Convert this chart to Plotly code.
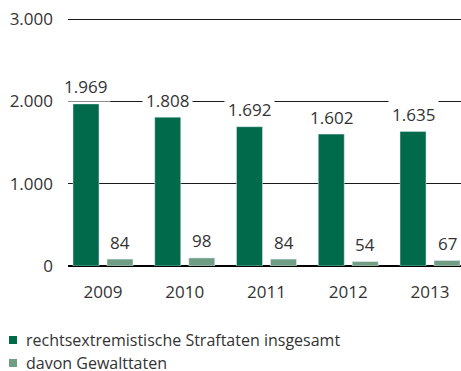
import plotly.graph_objects as go

# Rechtsextremistische Straftaten 2009-2013
years = ["2009", "2010", "2011", "2012", "2013"]
total = [1969, 1808, 1692, 1602, 1635]
violent = [84, 98, 84, 54, 67]
total_labels = ["1.969", "1.808", "1.692", "1.602", "1.635"]
violent_labels = ["84", "98", "84", "54", "67"]
y_ticks = [0, 1000, 2000, 3000]
y_tick_labels = ["0", "1.000", "2.000", "3.000"]
legend_names = ["rechtsextremistische Straftaten insgesamt", "davon Gewalttaten"]

DARK = "#006a4a"
LIGHT = "#6f9e85"
TEXT = "#333333"
FONT = "Open Sans"
NUM_SIZE = 17
LEGEND_SIZE = 16

W, H = 461, 371
L, R, T, B = 68, 0, 17, 105
plot_w = W - L - R
plot_h = H - T - B
# 3000 sits 247 px above the baseline; a little headroom keeps its gridline
y_top = plot_h / 247 * 3000

BAR_W = 0.318
DARK_OFF = -0.367
LIGHT_OFF = 0.049
x_range = [-0.428, 4.379]
px_per_cat = plot_w / (x_range[1] - x_range[0])

fig = go.Figure()
fig.add_trace(go.Bar(x=years, y=total, name=legend_names[0], marker_color=DARK,
                     width=BAR_W, offset=DARK_OFF, showlegend=False))
fig.add_trace(go.Bar(x=years, y=violent, name=legend_names[1], marker_color=LIGHT,
                     width=BAR_W, offset=LIGHT_OFF, showlegend=False))

annotations = []
for values, labels, off in ((total, total_labels, DARK_OFF),
                            (violent, violent_labels, LIGHT_OFF)):
    for i, (v, lab) in enumerate(zip(values, labels)):
        annotations.append(dict(x=i, y=v, xref="x", yref="y", text=lab,
                                showarrow=False, yanchor="middle",
                                xshift=(off + BAR_W / 2) * px_per_cat, yshift=17,
                                bgcolor="white", borderpad=3,
                                font=dict(family=FONT, size=NUM_SIZE, color=TEXT)))


def px_to_paper(px, py):
    return (px - L) / plot_w, (H - B - py) / plot_h


# legend drawn as squares and text below the plot
shapes = []
for i, (name, col) in enumerate(zip(legend_names, [DARK, LIGHT])):
    cy = 340 + i * 23
    x0, y0 = px_to_paper(9, cy + 4)
    x1, y1 = px_to_paper(17, cy - 4)
    shapes.append(dict(type="rect", xref="paper", yref="paper", x0=x0, y0=y0,
                       x1=x1, y1=y1, fillcolor=col, line_width=0))
    tx, ty = px_to_paper(24, cy)
    annotations.append(dict(x=tx, y=ty, xref="paper", yref="paper", text=name,
                            showarrow=False, xanchor="left", yanchor="middle",
                            font=dict(family=FONT, size=LEGEND_SIZE, color=TEXT)))

fig.update_layout(
    width=W, height=H,
    margin=dict(l=L, r=R, t=T, b=B, pad=0),
    paper_bgcolor="white", plot_bgcolor="white",
    showlegend=False,
    annotations=annotations,
    shapes=shapes,
    xaxis=dict(type="category", range=x_range, showgrid=False, zeroline=False,
               showline=False, ticks="", ticklabelstandoff=14,
               tickfont=dict(family=FONT, size=NUM_SIZE, color=TEXT), fixedrange=True),
    yaxis=dict(range=[0, y_top], tickvals=y_ticks, ticktext=y_tick_labels,
               showgrid=True, gridcolor="#1a1a1a", gridwidth=1,
               zeroline=True, zerolinecolor="#000000", zerolinewidth=2,
               showline=False, ticks="", ticklabelstandoff=14,
               tickfont=dict(family=FONT, size=NUM_SIZE, color=TEXT), fixedrange=True),
)

fig.write_html("out.html")
